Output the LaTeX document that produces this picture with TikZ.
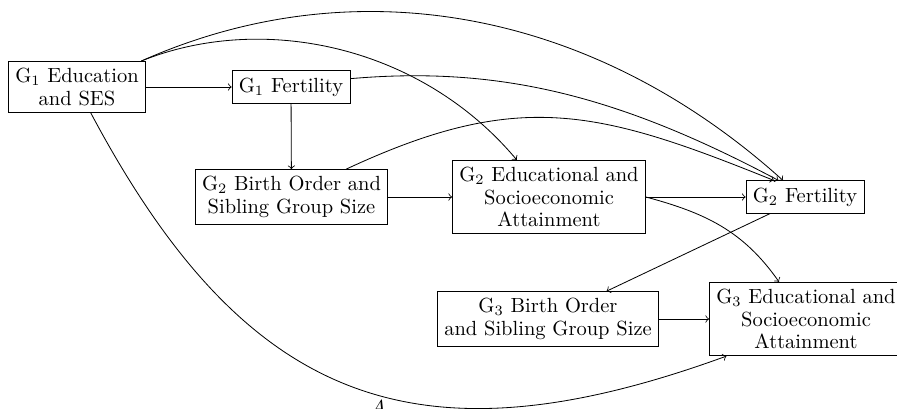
\documentclass[tikz,border=0pt]{standalone}
\begin{document}
\begin{tikzpicture}[x=0.488pt,y=0.488pt,
  box/.style={draw, align=center, font=\fontsize{10}{11}\selectfont, inner sep=3.33pt},
  link/.style={->}]
\useasboundingbox (0,0) rectangle (897,-409);
\node[box] (g1e) at (77,-87) {G$_1$ Education\\and SES};
\node[box] (g1f) at (291,-87) {G$_1$ Fertility};
\node[box] (g2b) at (291.5,-197) {G$_2$ Birth Order and\\Sibling Group Size};
\node[box] (g2e) at (549,-197) {G$_2$ Educational and\\Socioeconomic\\Attainment};
\node[box] (g2f) at (805,-197) {G$_2$ Fertility};
\node[box] (g3b) at (548,-319) {G$_3$ Birth Order\\and Sibling Group Size};
\node[box] (g3e) at (806,-319) {G$_3$ Educational and\\Socioeconomic\\Attainment};
\node[anchor=north, inner sep=0pt] (lblA) at (378,-400) {$A$};

\draw[link] (g1e) -- (g1f);
\draw[link] (g1f) -- (g2b);
\draw[link] (g2b.east) -- (g2e.west);
\draw[link] (g2e.east) -- (g2f.west);
\draw[link] (g3b.east) -- (g3e.west);
\draw[link] (g2f) -- (g3b);
\draw[link] (g2e.east) .. controls +(-15:62) and +(125:62) .. (g3e.126);
\draw[link] (g1e.22) .. controls +(24:235) and +(138:255) .. (g2f.143);
\draw[link] (g1e.22) .. controls +(22:130) and +(130:150) .. (g2e.131);
\draw[link] (g1f.8) .. controls +(5:150) and +(152:180) .. (g2f.148);
\draw[link] (g2b.27) .. controls +(25:190) and +(158:190) .. (g2f.152);
\draw[link] (g1e.-62) .. controls +(-62:330) and +(200:330) .. (g3e.-155);
\end{tikzpicture}
\end{document}
